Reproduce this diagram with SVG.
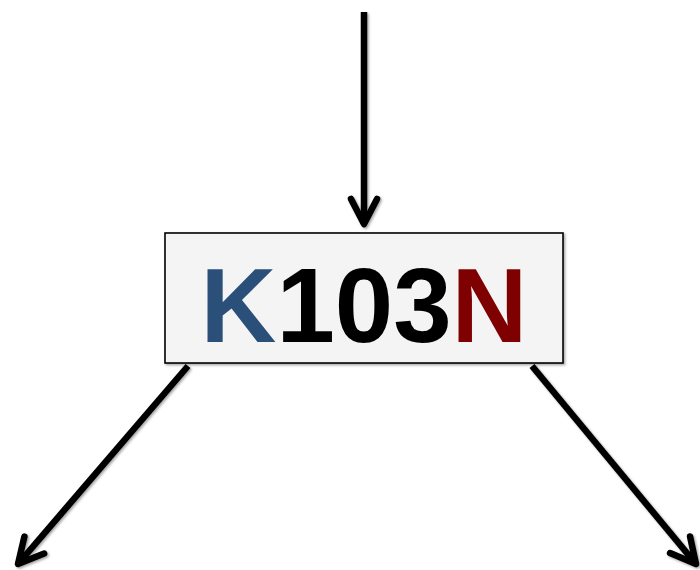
<svg xmlns="http://www.w3.org/2000/svg" width="700" height="570" viewBox="0 0 700 570">
  <style>
    .conn { stroke: #000; stroke-width: 6.5; fill: none; stroke-linecap: butt; }
    .head { stroke: #000; stroke-width: 6.5; fill: none; stroke-linecap: round; stroke-linejoin: round; }
    .box { fill: #f4f4f4; stroke: #000; stroke-width: 1.6; }
    .lbl { font-family: "Liberation Sans", Arial, sans-serif; font-weight: bold; font-size: 105px; }
  </style>
  <defs>
    <filter id="sh" x="-20%" y="-20%" width="140%" height="140%">
      <feDropShadow dx="1.5" dy="1.5" stdDeviation="1.2" flood-color="#000" flood-opacity="0.35"/>
    </filter>
    <marker id="ah" markerUnits="userSpaceOnUse" viewBox="-32 -20 40 40" markerWidth="40" markerHeight="40" refX="0" refY="0" orient="auto" overflow="visible">
      <path class="head" d="M-25,-13 L0,0 L-25,13"/>
    </marker>
  </defs>
  <g id="connectors" filter="url(#sh)">
    <path class="conn" d="M364,12 L364,224" marker-end="url(#ah)"/>
    <path class="conn" d="M188,366 L18,564" marker-end="url(#ah)"/>
    <path class="conn" d="M532,366 L696,564" marker-end="url(#ah)"/>
  </g>
  <g id="node-k103n" filter="url(#sh)">
    <rect class="box" x="165" y="233" width="398" height="130"/>
    <text class="lbl" x="364" y="342" text-anchor="middle"><tspan fill="#2b5079">K</tspan><tspan fill="#000">103</tspan><tspan fill="#7f0000">N</tspan></text>
  </g>
</svg>
